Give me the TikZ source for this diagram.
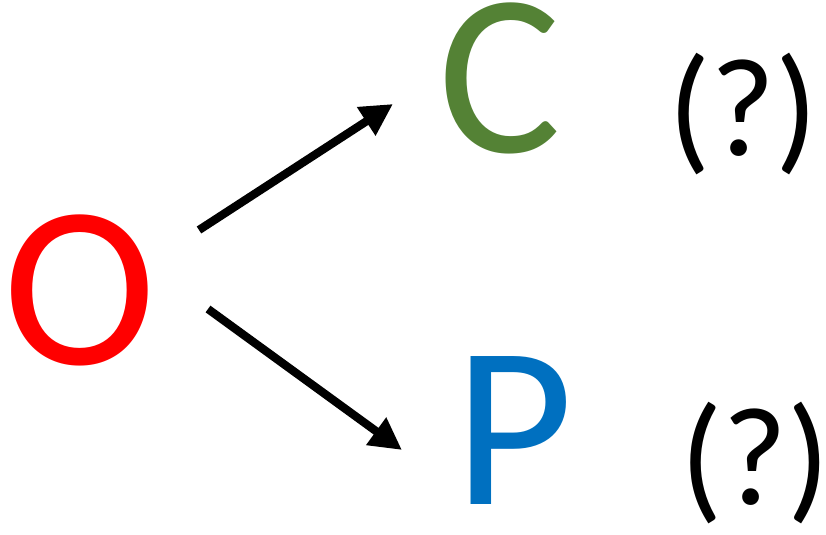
\documentclass[tikz,border=0pt]{standalone}
\usepackage{fontspec}
\setmainfont{Carlito}
\usetikzlibrary{arrows.meta}
\definecolor{cred}{HTML}{FF0000}
\definecolor{cgreen}{HTML}{548235}
\definecolor{cblue}{HTML}{0070C0}
\tikzset{
  big/.style={inner sep=0pt, anchor=base, text height=110pt, text depth=0pt, font=\fontsize{173}{173}\selectfont},
  qmark/.style={inner sep=0pt, anchor=base, text height=70pt, text depth=15pt, font=\fontsize{105}{105}\selectfont},
  arr/.style={line width=6.2pt, -{Triangle[length=24pt,width=24pt]}}
}
\begin{document}
\begin{tikzpicture}[x=0.75pt,y=-0.75pt]
\useasboundingbox (0,0) rectangle (826,535);
\node[big, text=cred] (O) at (80,364) {O};
\node[big, text=cgreen] (C) at (500,153) {C};
\node[big, text=cblue] (P) at (514,504) {P};
\node[qmark] (Q1) at (743,156) {(?)};
\node[qmark] (Q2) at (755,504) {(?)};
\coordinate (a1s) at (199,230);
\coordinate (a1e) at (393,104);
\coordinate (a2s) at (208,309);
\coordinate (a2e) at (402,450);
\draw[arr] (a1s) -- (a1e);
\draw[arr] (a2s) -- (a2e);
\end{tikzpicture}
\end{document}
